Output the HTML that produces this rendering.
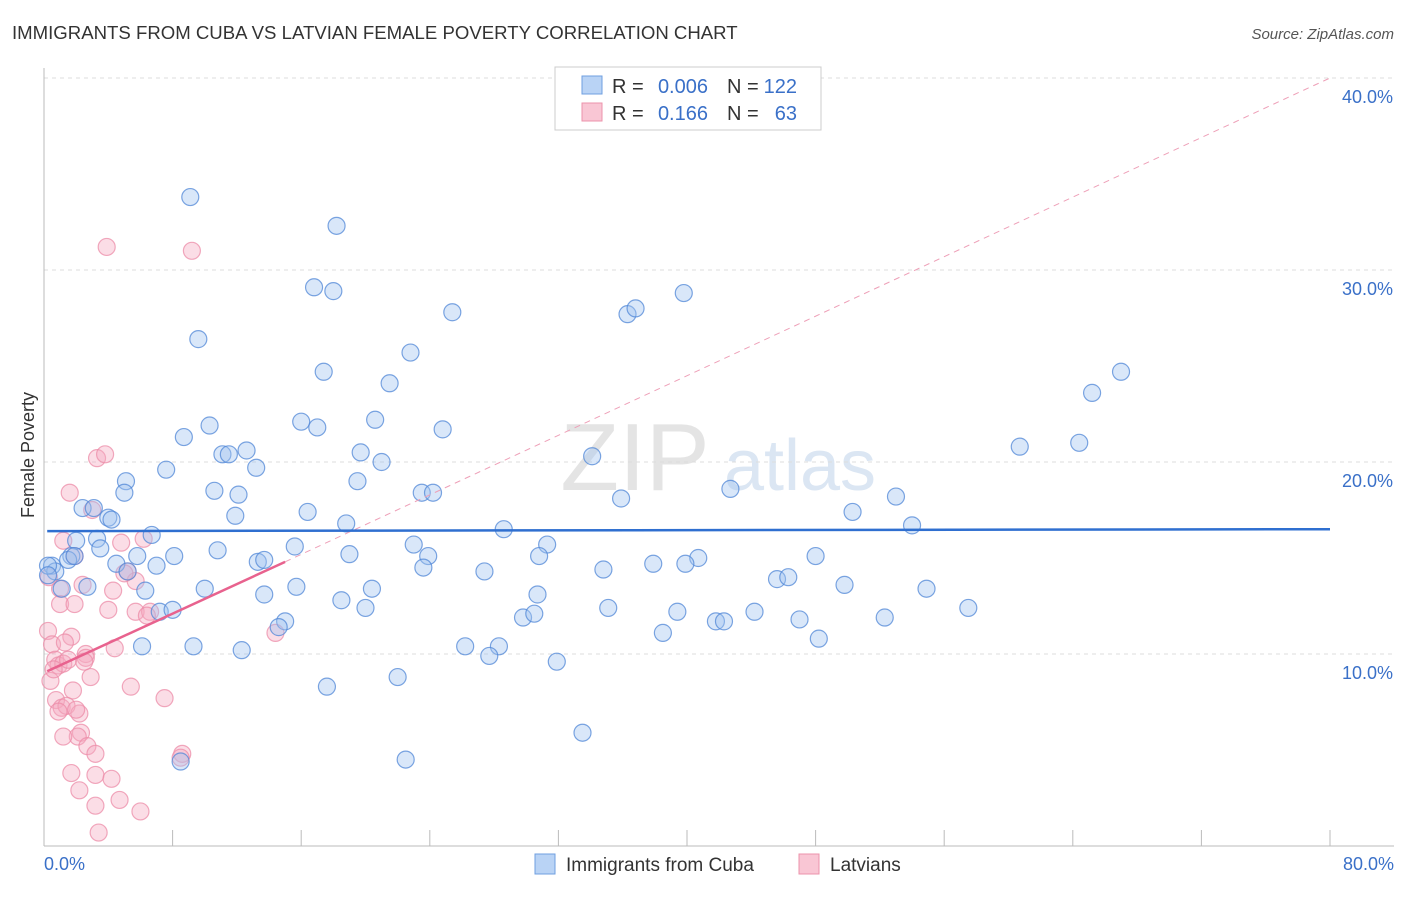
<!DOCTYPE html>
<html><head><meta charset="utf-8"><style>
body{margin:0;background:#fff;font-family:"Liberation Sans",sans-serif}
svg text{font-family:"Liberation Sans",sans-serif}
</style></head><body>
<svg id="c" width="1406" height="892">
<text x="12" y="39" font-size="18.6" fill="#333">IMMIGRANTS FROM CUBA VS LATVIAN FEMALE POVERTY CORRELATION CHART</text>
<text x="1394" y="39" font-size="15" fill="#555" font-style="italic" text-anchor="end">Source: ZipAtlas.com</text>
<text x="635" y="490" font-size="96" fill="#e4e4e4" font-family="Liberation Serif" text-anchor="middle">ZIP</text>
<text x="800" y="490" font-size="72" fill="#dbe6f3" text-anchor="middle">atlas</text>
<text x="34" y="455" font-size="18" fill="#333" text-anchor="middle" transform="rotate(-90 34 455)">Female Poverty</text>
<g id="grid"></g><g id="pts"></g><g id="lines"></g>
<g>
<rect x="555" y="67" width="266" height="63" fill="#fff" stroke="#ccc"/>
<rect x="582" y="76" width="20" height="18" fill="#b9d3f5" stroke="#6f9fe0"/>
<rect x="582" y="103" width="20" height="18" fill="#f9c6d4" stroke="#ec93ab"/>
<text x="612" y="93" font-size="20" fill="#333">R =</text>
<text x="708" y="93" font-size="20" fill="#3a70c8" text-anchor="end">0.006</text>
<text x="727" y="93" font-size="20" fill="#333">N =</text>
<text x="797" y="93" font-size="20" fill="#3a70c8" text-anchor="end">122</text>
<text x="612" y="120" font-size="20" fill="#333">R =</text>
<text x="708" y="120" font-size="20" fill="#3a70c8" text-anchor="end">0.166</text>
<text x="727" y="120" font-size="20" fill="#333">N =</text>
<text x="797" y="120" font-size="20" fill="#3a70c8" text-anchor="end">63</text>
</g>
<g>
<rect x="535" y="854" width="20" height="20" fill="#b9d3f5" stroke="#6f9fe0"/>
<text x="566" y="871" font-size="19" fill="#333">Immigrants from Cuba</text>
<rect x="799" y="854" width="20" height="20" fill="#f9c6d4" stroke="#ec93ab"/>
<text x="830" y="871" font-size="19" fill="#333">Latvians</text>
</g>
<text x="44" y="870" font-size="18" fill="#3a70c8">0.0%</text>
<text x="1394" y="870" font-size="18" fill="#3a70c8" text-anchor="end">80.0%</text>
</svg>
<script>
const yTicks=[10,20,30,40];
const xTickVals=[0,8,16,24,32,40,48,56,64,72,80];
const cubaX=[9.1,18.2,9.6,16.8,18.0,25.4,36.3,36.8,39.8,22.8,17.4,21.5,67.0,65.2,10.3,8.7,16.0,17.0,20.6,24.8,11.1,11.5,12.6,13.2,19.7,21.0,34.1,60.7,64.4,7.6,5.1,5.0,10.6,12.1,19.5,23.5,24.2,42.7,35.9,53.0,2.4,3.1,4.0,4.2,11.9,16.4,18.8,28.6,50.3,54.0,6.7,2.0,3.3,3.5,10.8,15.6,23.0,31.3,1.7,1.5,1.9,8.1,5.8,4.5,7.0,13.3,13.7,19.0,23.9,23.6,30.8,48.0,40.7,39.9,37.9,27.4,34.8,0.5,0.7,0.25,5.2,2.7,1.1,10.0,15.7,20.4,45.6,46.3,49.8,54.9,6.3,13.7,30.7,18.5,20.0,7.2,8.0,29.8,30.5,35.1,39.4,44.2,57.5,15.0,14.6,41.8,42.3,47.0,52.3,38.5,48.2,6.1,9.3,12.3,26.2,28.3,27.7,31.9,17.6,22.0,33.5,8.5,22.5,0.25];
const cubaY=[33.8,32.3,26.4,29.1,28.9,27.8,27.7,28.0,28.8,25.7,24.7,24.1,24.7,23.6,21.9,21.3,22.1,21.8,22.2,21.7,20.4,20.4,20.6,19.7,20.5,20.0,20.3,20.8,21.0,19.6,19.0,18.4,18.5,18.3,19.0,18.4,18.4,18.6,18.1,18.2,17.6,17.6,17.1,17.0,17.2,17.4,16.8,16.5,17.4,16.7,16.2,15.9,16.0,15.5,15.4,15.6,15.7,15.7,15.1,14.9,15.1,15.1,15.1,14.7,14.6,14.8,14.9,15.2,15.1,14.5,15.1,15.1,15.0,14.7,14.7,14.3,14.4,14.6,14.3,14.6,14.3,13.5,13.4,13.4,13.5,13.4,13.9,14.0,13.6,13.4,13.3,13.1,13.1,12.8,12.4,12.2,12.3,11.9,12.1,12.4,12.2,12.2,12.4,11.7,11.4,11.7,11.7,11.8,11.9,11.1,10.8,10.4,10.4,10.2,10.4,10.4,9.9,9.6,8.3,8.8,5.9,4.4,4.5,14.1];
const latX=[3.9,9.2,3.3,3.8,1.6,3.0,1.2,4.8,6.2,1.9,1.0,2.4,5.2,5.7,4.3,1.0,1.9,4.0,5.7,6.6,1.7,0.25,0.5,4.4,2.6,14.4,0.7,0.9,1.2,1.5,2.6,0.4,2.9,1.8,5.4,7.5,0.75,1.1,1.4,0.9,2.2,2.0,2.3,2.1,1.2,2.7,3.2,8.6,1.7,3.2,4.2,2.2,4.7,3.2,6.0,3.4,0.3,5.0,6.4,2.5,1.3,8.5,0.6];
const latY=[31.2,31.0,20.2,20.4,18.4,17.5,15.9,15.8,16.0,15.1,13.4,13.6,14.3,13.8,13.3,12.6,12.6,12.3,12.2,12.2,10.9,11.2,10.5,10.3,10.0,11.1,9.7,9.4,9.5,9.7,9.8,8.6,8.8,8.1,8.3,7.7,7.6,7.2,7.3,7.0,6.9,7.1,5.9,5.7,5.7,5.2,4.8,4.8,3.8,3.7,3.5,2.9,2.4,2.1,1.8,0.7,14.0,14.2,12.0,9.6,10.6,4.6,9.2];
const cubaTrend=[16.4,16.5];
const latTrend=[9.1,14.8,40.0];
const NS='http://www.w3.org/2000/svg';
const X=v=>44+v*(1286/80), Y=v=>846-v*19.2;
function mk(t,a,p){const e=document.createElementNS(NS,t);for(const k in a)e.setAttribute(k,a[k]);p.appendChild(e);return e;}
const g=document.getElementById('grid');
yTicks.forEach(t=>{const l=mk('line',{x1:44,x2:1394,y1:Y(t),y2:Y(t),stroke:'#ddd','stroke-dasharray':'4,4'},g);


const tx=mk('text',{x:1393,y:Y(t)+25,'font-size':18,fill:'#3a70c8','text-anchor':'end'},g);tx.textContent=t.toFixed(1)+'%';

});
const ax=mk('line',{x1:44,x2:44,y1:68,y2:846,stroke:'#bbb'},g);


const bx=mk('line',{x1:44,x2:1394,y1:846,y2:846,stroke:'#bbb'},g);


xTickVals.forEach(t=>{const l=mk('line',{x1:X(t),x2:X(t),y1:830,y2:846,stroke:'#bbb'},g);

});
const p=document.getElementById('pts');
latX.forEach((x,i)=>{const c=mk('circle',{cx:X(x),cy:Y(latY[i]),r:8.5,fill:'rgba(246,170,192,0.4)',stroke:'rgba(236,140,168,0.75)','stroke-width':1.2},p);

});
cubaX.forEach((x,i)=>{const c=mk('circle',{cx:X(x),cy:Y(cubaY[i]),r:8.5,fill:'rgba(160,195,240,0.4)',stroke:'rgba(80,135,215,0.75)','stroke-width':1.2},p);

});
const L=document.getElementById('lines');
const d=mk('line',{x1:X(15),y1:Y(latTrend[1]),x2:X(80),y2:Y(latTrend[2]),stroke:'#eea0b8','stroke-dasharray':'6,5','stroke-width':1},L);


const s=mk('line',{x1:X(0.2),y1:Y(latTrend[0]),x2:X(15),y2:Y(latTrend[1]),stroke:'#e8628e','stroke-width':2.5},L);


const b=mk('line',{x1:X(0.2),y1:Y(cubaTrend[0]),x2:X(80),y2:Y(cubaTrend[1]),stroke:'#2f6fd0','stroke-width':2.5},L);


</script>
</body></html>
